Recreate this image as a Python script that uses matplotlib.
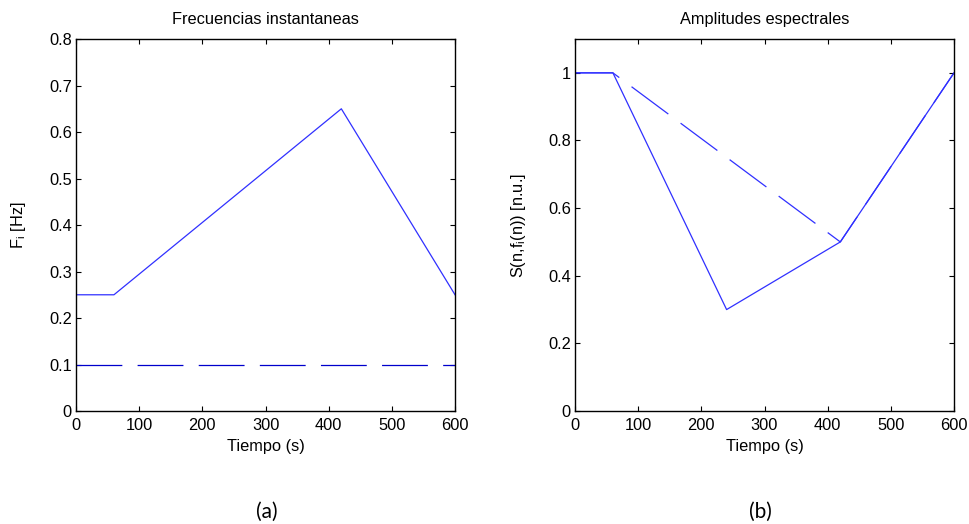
import matplotlib
matplotlib.use("Agg")
import matplotlib.pyplot as plt

plt.rcParams['font.family'] = ['Liberation Sans', 'DejaVu Sans']
plt.rcParams['mathtext.fontset'] = 'custom'
plt.rcParams['mathtext.rm'] = 'Liberation Sans'
plt.rcParams['lines.scale_dashes'] = False

# Data
t_freq_solid = [0, 60, 420, 600]
f_freq_solid = [0.25, 0.25, 0.65, 0.25]
t_freq_dash = [0, 600]
f_freq_dash = [0.1, 0.1]

t_amp_solid = [0, 60, 240, 420, 600]
a_amp_solid = [1.0, 1.0, 0.3, 0.5, 1.0]
t_amp_dash = [0, 60, 420, 600]
a_amp_dash = [1.0, 1.0, 0.5, 1.0]

xticks = [0, 100, 200, 300, 400, 500, 600]
xticklabels = ['0', '100', '200', '300', '400', '500', '600']
yticks_a = [0, 0.1, 0.2, 0.3, 0.4, 0.5, 0.6, 0.7, 0.8]
yticklabels_a = ['0', '0.1', '0.2', '0.3', '0.4', '0.5', '0.6', '0.7', '0.8']
yticks_b = [0, 0.2, 0.4, 0.6, 0.8, 1.0]
yticklabels_b = ['0', '0.2', '0.4', '0.6', '0.8', '1']

fig = plt.figure(figsize=(9.7, 5.24), dpi=100)
ax1 = fig.add_axes([0.0784, 0.2156, 0.3907, 0.7099])
ax2 = fig.add_axes([0.5928, 0.2156, 0.3907, 0.7099])

solid_c = '#3030ff'
dash_c = '#0000cc'
dashes = (33, 11)
fs = 11.8

ax1.plot(t_freq_solid, f_freq_solid, color=solid_c, lw=0.9)
ax1.plot(t_freq_dash, f_freq_dash, color=dash_c, lw=0.9, dashes=dashes)
ax1.set_xlim(0, 600)
ax1.set_ylim(0, 0.8)
ax1.set_yticks(yticks_a)
ax1.set_yticklabels(yticklabels_a)
ax1.set_title('Frecuencias instantaneas', fontsize=fs, pad=10.5)
ax1.set_ylabel(r'F$_\mathregular{i}$ [Hz]', fontsize=fs)
ax1.yaxis.set_label_coords(-0.127, 0.5)

ax2.plot(t_amp_dash, a_amp_dash, color=solid_c, lw=0.9, dashes=dashes)
ax2.plot(t_amp_solid, a_amp_solid, color=solid_c, lw=0.9)
ax2.set_xlim(0, 600)
ax2.set_ylim(0, 1.1)
ax2.set_yticks(yticks_b)
ax2.set_yticklabels(yticklabels_b)
ax2.set_title('Amplitudes espectrales', fontsize=fs, pad=10.5)
ax2.set_ylabel(r'S(n,f$_\mathregular{i}$(n)) [n.u.]', fontsize=fs)
ax2.yaxis.set_label_coords(-0.124, 0.5)

for ax in (ax1, ax2):
    ax.set_xticks(xticks)
    ax.set_xticklabels(xticklabels)
    ax.set_xlabel('Tiempo (s)', fontsize=fs, labelpad=4)
    ax.tick_params(direction='in', top=True, right=True, length=3.5,
                   width=0.8, labelsize=fs)
    ax.tick_params(axis='x', pad=5)
    ax.tick_params(axis='y', pad=3)
    for s in ax.spines.values():
        s.set_linewidth(1.0)

fig.text(0.2753, 0.024, '(a)', fontsize=15, family=['Lato', 'DejaVu Sans'],
         ha='center', va='center')
fig.text(0.7835, 0.024, '(b)', fontsize=15, family=['Lato', 'DejaVu Sans'],
         ha='center', va='center')

fig.savefig('out.png', dpi=100)
